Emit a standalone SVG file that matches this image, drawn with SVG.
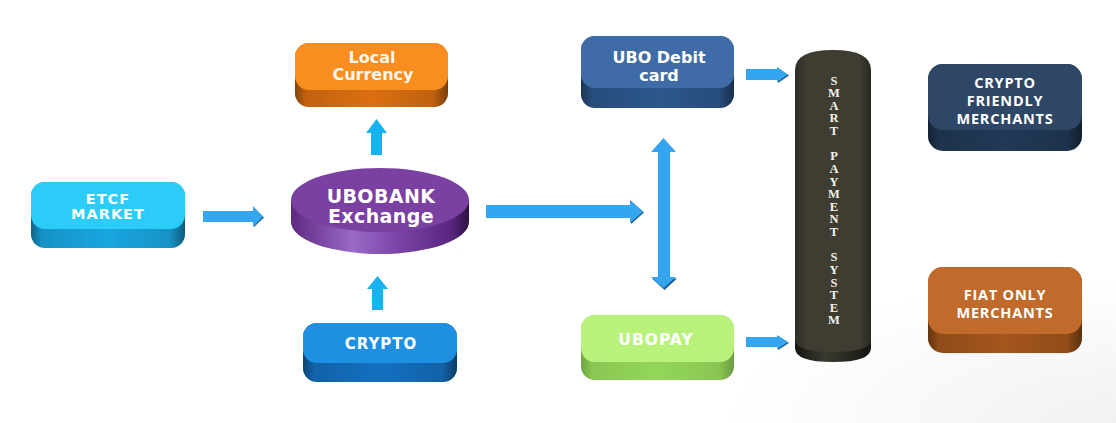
<svg xmlns="http://www.w3.org/2000/svg" width="1116" height="423" viewBox="0 0 1116 423">
<defs>
<style>
.t{font-family:"DejaVu Sans",Verdana,sans-serif;font-weight:bold;fill:#fff;text-anchor:middle}
.o{font-family:"Open Sans","Noto Sans",sans-serif;font-weight:bold;fill:#fff;text-anchor:middle;font-size:14.5px;letter-spacing:0.8px}
.s{font-family:"Liberation Serif","Times New Roman",serif;font-weight:bold;fill:#f2f2ee;text-anchor:middle;font-size:12.5px}
.arr{fill:#34A6F0}
.arrc{fill:#17B3F1}
.sh{fill:#1B5C99}
</style>
<linearGradient id="side" x1="0" y1="0" x2="1" y2="0">
<stop offset="0" stop-color="#000" stop-opacity="0.4"/>
<stop offset="0.07" stop-color="#000" stop-opacity="0.12"/>
<stop offset="0.5" stop-color="#000" stop-opacity="0"/>
<stop offset="0.9" stop-color="#000" stop-opacity="0.12"/>
<stop offset="1" stop-color="#000" stop-opacity="0.45"/>
</linearGradient>
<linearGradient id="ell" x1="0" y1="0" x2="1" y2="0">
<stop offset="0" stop-color="#5E2A80"/>
<stop offset="0.35" stop-color="#9A6AC8"/>
<stop offset="0.6" stop-color="#7A44A6"/>
<stop offset="0.9" stop-color="#5A2680"/>
<stop offset="1" stop-color="#2E1240"/>
</linearGradient>
<linearGradient id="col" x1="0" y1="0" x2="1" y2="0">
<stop offset="0" stop-color="#2E2D24"/>
<stop offset="0.15" stop-color="#3F3D32"/>
<stop offset="0.85" stop-color="#3F3D32"/>
<stop offset="1" stop-color="#2A2920"/>
</linearGradient>
<linearGradient id="colb" x1="0" y1="0" x2="1" y2="0">
<stop offset="0" stop-color="#151510"/>
<stop offset="0.4" stop-color="#3A3A30"/>
<stop offset="1" stop-color="#151510"/>
</linearGradient>
<radialGradient id="bg" cx="1" cy="1" r="0.35">
<stop offset="0" stop-color="#f1f1f1"/>
<stop offset="1" stop-color="#ffffff"/>
</radialGradient>
</defs>
<rect width="1116" height="423" fill="url(#bg)"/>

<g id="connectors">
<polygon class="sh" points="254,208 264,217.5 254,227"/>
<polygon class="arr" points="203,211 253,211 253,206 263,216.5 253,227 253,222 203,222"/>
<polygon class="sh" points="631,201 644,212.5 631,224"/>
<polygon class="arr" points="486,205 630,205 630,200 643,211.5 630,223 630,218 486,218"/>
<polygon class="sh" points="778,68 789,75.5 778,83"/>
<polygon class="arr" points="746,69 777,69 777,67 788,74.5 777,82 777,80 746,80"/>
<polygon class="sh" points="778,336 789,343 778,350"/>
<polygon class="arr" points="746,337 777,337 777,335 788,342 777,349 777,347 746,347"/>
<polygon class="arrc" points="371,155 371,133 366,133 376.5,119 387,133 382,133 382,155"/>
<polygon class="arrc" points="372,310 372,289 367,289 377.5,276 388,289 383,289 383,310"/>
<polygon class="sh" points="652,278.5 664.5,290 677,278.5"/>
<polygon class="arr" points="658,152 651,152 663.5,138 676,152 670,152 670,277 676,277 663.5,288 651,277 658,277"/>
</g>

<g id="etcf">
<rect x="31" y="182" width="154" height="66" rx="14" fill="#19A6E0"/>
<rect x="31" y="200" width="154" height="48" rx="14" fill="url(#side)"/>
<rect x="31" y="182" width="154" height="47" rx="14" fill="#2BCCF7"/>
<text class="t" x="108" y="204" font-size="14.5" letter-spacing="1">ETCF</text>
<text class="t" x="108" y="219" font-size="14.5" letter-spacing="1">MARKET</text>
</g>

<g id="local-currency">
<rect x="295" y="43" width="153" height="64" rx="14" fill="#DB6F10"/>
<rect x="295" y="60" width="153" height="47" rx="14" fill="url(#side)"/>
<rect x="295" y="43" width="153" height="47" rx="14" fill="#F88E1F"/>
<text class="t" x="372" y="63" font-size="16" fill-opacity="0.95">Local</text>
<text class="t" x="373" y="80" font-size="16" fill-opacity="0.95">Currency</text>
</g>

<g id="ubobank">
<path d="M291,200 L291,222 A89,32 0 0 0 469,222 L469,200 Z" fill="url(#ell)"/>
<ellipse cx="380" cy="200" rx="89" ry="32" fill="#7A40A2"/>
<text class="t" x="381" y="203" font-size="19" letter-spacing="0.4">UBOBANK</text>
<text class="t" x="381" y="223" font-size="19" letter-spacing="0.4">Exchange</text>
</g>

<g id="crypto">
<rect x="303" y="323" width="154" height="59" rx="14" fill="#1470BF"/>
<rect x="303" y="340" width="154" height="42" rx="14" fill="url(#side)"/>
<rect x="303" y="323" width="154" height="40" rx="14" fill="#1F8FE1"/>
<text class="t" x="381" y="348.5" font-size="15" letter-spacing="1">CRYPTO</text>
</g>

<g id="ubo-debit-card">
<rect x="581" y="36" width="153" height="72" rx="14" fill="#2C578D"/>
<rect x="581" y="55" width="153" height="53" rx="14" fill="url(#side)"/>
<rect x="581" y="36" width="153" height="52" rx="14" fill="#3F6CA6"/>
<text class="t" x="659" y="63" font-size="16">UBO Debit</text>
<text class="t" x="659" y="80.5" font-size="16">card</text>
</g>

<g id="ubopay">
<rect x="581" y="315" width="153" height="65" rx="14" fill="#93D659"/>
<rect x="581" y="333" width="153" height="47" rx="14" fill="url(#side)" opacity="0.6"/>
<rect x="581" y="315" width="153" height="47" rx="14" fill="#B9F27B"/>
<text class="t" x="656" y="345" font-size="15.5" letter-spacing="1" fill="#F2FBE6">UBOPAY</text>
</g>

<g id="smart-payment-system">
<path d="M795,335 L795,348 Q795,362 833,362 Q871,362 871,348 L871,335 Z" fill="url(#colb)"/>
<path d="M795,340 L795,70 Q795,50 833,50 Q871,50 871,70 L871,340 Q871,352 833,352 Q795,352 795,340 Z" fill="url(#col)"/>
<text class="s"><tspan x="834" y="84.5">S</tspan><tspan x="834" dy="12.63">M</tspan><tspan x="834" dy="12.63">A</tspan><tspan x="834" dy="12.63">R</tspan><tspan x="834" dy="12.63">T</tspan><tspan x="834" dy="25.26">P</tspan><tspan x="834" dy="12.63">A</tspan><tspan x="834" dy="12.63">Y</tspan><tspan x="834" dy="12.63">M</tspan><tspan x="834" dy="12.63">E</tspan><tspan x="834" dy="12.63">N</tspan><tspan x="834" dy="12.63">T</tspan><tspan x="834" dy="25.26">S</tspan><tspan x="834" dy="12.63">Y</tspan><tspan x="834" dy="12.63">S</tspan><tspan x="834" dy="12.63">T</tspan><tspan x="834" dy="12.63">E</tspan><tspan x="834" dy="12.63">M</tspan></text>
</g>

<g id="crypto-friendly-merchants">
<rect x="928" y="64" width="154" height="87" rx="15" fill="#213956"/>
<rect x="928" y="86" width="154" height="65" rx="15" fill="url(#side)"/>
<rect x="928" y="64" width="154" height="66" rx="15" fill="#2E4767"/>
<text class="o" x="1005" y="88">CRYPTO</text>
<text class="o" x="1005" y="106">FRIENDLY</text>
<text class="o" x="1005" y="124">MERCHANTS</text>
</g>

<g id="fiat-only-merchants">
<rect x="928" y="267" width="154" height="86" rx="15" fill="#A4561C"/>
<rect x="928" y="290" width="154" height="63" rx="15" fill="url(#side)"/>
<rect x="928" y="267" width="154" height="67" rx="15" fill="#C06B2B"/>
<text class="o" x="1005" y="300">FIAT ONLY</text>
<text class="o" x="1005" y="318">MERCHANTS</text>
</g>
</svg>
